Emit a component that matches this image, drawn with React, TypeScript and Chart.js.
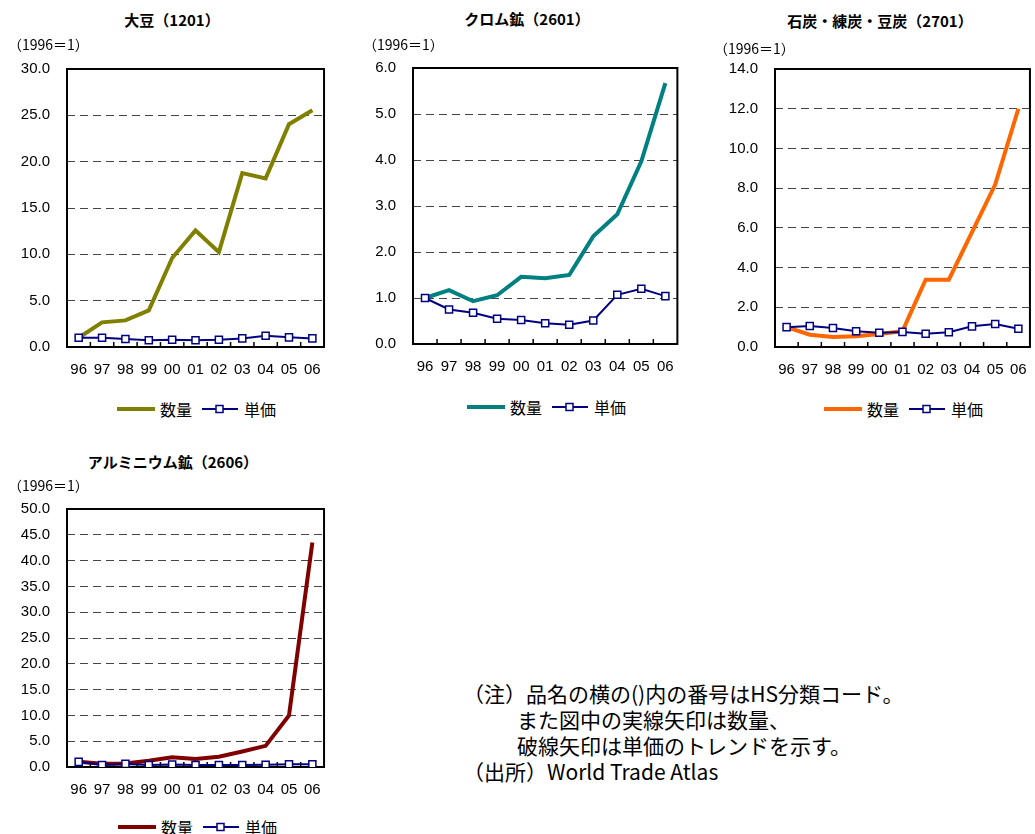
import React, { useEffect, useRef } from 'react';
import { Chart, registerables } from 'chart.js';

Chart.register(...registerables);

// Fiscal years on the category axis
const YEARS = ['96', '97', '98', '99', '00', '01', '02', '03', '04', '05', '06'];

// Indices (1996 = 1): volume and unit price per commodity
const SOY_QTY = [1.0, 2.66, 2.87, 3.95, 9.6, 12.58, 10.24, 18.76, 18.2, 24.04, 25.55];
const SOY_PRICE = [1.0, 1.0, 0.86, 0.72, 0.79, 0.72, 0.79, 0.93, 1.22, 1.04, 0.93];

const CHROME_QTY = [1.0, 1.17, 0.93, 1.06, 1.46, 1.43, 1.5, 2.34, 2.82, 3.97, 5.67];
const CHROME_PRICE = [1.0, 0.75, 0.68, 0.55, 0.52, 0.45, 0.42, 0.51, 1.07, 1.2, 1.04];

const COAL_QTY = [1.0, 0.62, 0.5, 0.54, 0.65, 0.8, 3.39, 3.39, 5.79, 8.18, 12.0];
const COAL_PRICE = [1.0, 1.06, 0.96, 0.79, 0.72, 0.76, 0.67, 0.74, 1.04, 1.16, 0.92];

const ALU_QTY = [1.0, 0.65, 0.7, 1.2, 1.9, 1.55, 2.0, 3.0, 4.1, 10.0, 43.5];
const ALU_PRICE = [1.0, 0.4, 0.6, 0.4, 0.5, 0.4, 0.4, 0.4, 0.45, 0.55, 0.55];

const QTY_LABEL = '数量';
const PRICE_LABEL = '単価';
const UNIT_LABEL = '（1996＝1）';

const NOTE_LINES = [
  '（注）品名の横の()内の番号はHS分類コード。',
  'また図中の実線矢印は数量、',
  '破線矢印は単価のトレンドを示す。',
  '（出所）World Trade Atlas',
];

const NAVY = '#000080';
const JP_FONT = '"Noto Sans CJK JP", "Noto Sans", sans-serif';
const NUM_FONT = '"Liberation Sans", Arial, sans-serif';

type Panel = {
  title: string;
  qty: number[];
  price: number[];
  color: string;
  max: number;
  step: number;
  // plot-area rectangle on the page
  L: number; T: number; R: number; B: number;
  titleX: number; titleY: number;
  unitX: number; unitY: number;
  legendX: number; legendY: number;
};

const PANELS: Panel[] = [
  {
    title: '大豆（1201）', qty: SOY_QTY, price: SOY_PRICE, color: '#808000', max: 30, step: 5,
    L: 67, T: 69, R: 329, B: 347, titleX: 172, titleY: 20, unitX: 8, unitY: 44, legendX: 117, legendY: 409,
  },
  {
    title: 'クロム鉱（2601）', qty: CHROME_QTY, price: CHROME_PRICE, color: '#008080', max: 6, step: 1,
    L: 413, T: 68, R: 682, B: 344, titleX: 527, titleY: 19, unitX: 363, unitY: 44, legendX: 467, legendY: 407,
  },
  {
    title: '石炭・練炭・豆炭（2701）', qty: COAL_QTY, price: COAL_PRICE, color: '#FF6600', max: 14, step: 2,
    L: 775, T: 69, R: 1035, B: 347, titleX: 880, titleY: 21, unitX: 714, unitY: 48, legendX: 824, legendY: 409,
  },
  {
    title: 'アルミニウム鉱（2606）', qty: ALU_QTY, price: ALU_PRICE, color: '#800000', max: 50, step: 5,
    L: 67, T: 509, R: 329, B: 767, titleX: 173, titleY: 462, unitX: 8, unitY: 485, legendX: 118, legendY: 827,
  },
];

const Y_AXIS_W = 60;
const X_AXIS_H = 40;
// must exceed the y-axis label overhang (half label height + tick padding)
const PAD_TOP = 32;
const PAD_RIGHT = 6;

// Draws the solid frame round the plot area and the short inward tick marks
// between year categories on the bottom edge.
const framePlugin = {
  id: 'plotFrame',
  beforeDatasetsDraw(chart: any) {
    const { ctx, chartArea } = chart;
    const xs = chart.scales.x;
    ctx.save();
    ctx.strokeStyle = '#000';
    ctx.lineWidth = 2;
    ctx.strokeRect(chartArea.left, chartArea.top, chartArea.right - chartArea.left, chartArea.bottom - chartArea.top);
    ctx.lineWidth = 1.5;
    ctx.beginPath();
    const n = chart.data.labels.length;
    for (let i = 1; i < n; i++) {
      const px = (xs.getPixelForValue(i - 1) + xs.getPixelForValue(i)) / 2;
      ctx.moveTo(px, chartArea.bottom);
      ctx.lineTo(px, chartArea.bottom - 5);
    }
    ctx.stroke();
    ctx.restore();
  },
};

function PanelChart({ p }: { p: Panel }) {
  const ref = useRef<HTMLCanvasElement | null>(null);
  const width = Y_AXIS_W + (p.R - p.L) + PAD_RIGHT;
  const height = PAD_TOP + (p.B - p.T) + X_AXIS_H;

  useEffect(() => {
    if (!ref.current) return;
    const chart = new Chart(ref.current, {
      type: 'line',
      data: {
        labels: YEARS,
        datasets: [
          {
            label: QTY_LABEL,
            data: p.qty,
            borderColor: p.color,
            backgroundColor: p.color,
            borderWidth: 4,
            pointRadius: 0,
            tension: 0,
            order: 2,
          },
          {
            label: PRICE_LABEL,
            data: p.price,
            borderColor: NAVY,
            backgroundColor: '#ffffff',
            borderWidth: 2,
            pointStyle: 'rect',
            pointRadius: 5,
            pointBorderWidth: 1.5,
            pointBorderColor: NAVY,
            pointBackgroundColor: '#ffffff',
            tension: 0,
            order: 1,
          },
        ],
      },
      options: {
        responsive: false,
        maintainAspectRatio: false,
        animation: false,
        events: [],
        layout: { padding: { top: PAD_TOP, right: PAD_RIGHT, left: 0, bottom: 0 } },
        plugins: { legend: { display: false }, tooltip: { enabled: false }, title: { display: false } },
        scales: {
          x: {
            type: 'category',
            offset: true,
            grid: { display: false, drawTicks: false },
            border: { display: false },
            ticks: {
              padding: 14,
              color: '#000',
              maxRotation: 0,
              autoSkip: false,
              font: { family: NUM_FONT, size: 15 },
            },
            afterFit: (s: any) => { s.height = X_AXIS_H; },
          },
          y: {
            min: 0,
            max: p.max,
            ticks: {
              stepSize: p.step,
              padding: 17,
              color: '#000',
              font: { family: NUM_FONT, size: 15 },
              callback: (v: any) => Number(v).toFixed(1),
            },
            grid: {
              drawTicks: false,
              lineWidth: 1,
              color: (c: any) =>
                c.tick && (c.tick.value === 0 || c.tick.value === p.max) ? 'rgba(0,0,0,0)' : '#444',
            },
            border: { display: false, dash: [8, 5] },
            afterFit: (s: any) => { s.width = Y_AXIS_W; },
          },
        },
      },
      plugins: [framePlugin],
    } as any);
    return () => chart.destroy();
  }, [p]);

  return (
    <canvas
      ref={ref}
      width={width}
      height={height}
      style={{
        position: 'absolute',
        left: p.L - Y_AXIS_W,
        top: p.T - PAD_TOP,
        width,
        height,
      }}
    />
  );
}

function Legend({ p }: { p: Panel }) {
  return (
    <div
      style={{
        position: 'absolute',
        left: p.legendX,
        top: p.legendY - 10,
        height: 20,
        display: 'flex',
        alignItems: 'center',
        fontFamily: JP_FONT,
        fontSize: 16,
        lineHeight: '20px',
        color: '#000',
        whiteSpace: 'nowrap',
      }}
    >
      <svg width={38} height={20} style={{ display: 'block' }}>
        <line x1={0} y1={10} x2={38} y2={10} stroke={p.color} strokeWidth={4} />
      </svg>
      <span style={{ marginLeft: 5 }}>{QTY_LABEL}</span>
      <svg width={36} height={20} style={{ display: 'block', marginLeft: 10 }}>
        <line x1={0} y1={10} x2={36} y2={10} stroke={NAVY} strokeWidth={2} />
        <rect x={14} y={6.5} width={7} height={7} fill="#ffffff" stroke={NAVY} strokeWidth={1.5} />
      </svg>
      <span style={{ marginLeft: 6 }}>{PRICE_LABEL}</span>
    </div>
  );
}

function PanelText({ p }: { p: Panel }) {
  return (
    <>
      <div
        style={{
          position: 'absolute',
          left: p.titleX - 150,
          width: 300,
          top: p.titleY - 10,
          lineHeight: '20px',
          textAlign: 'center',
          fontFamily: JP_FONT,
          fontWeight: 700,
          fontSize: 15,
          color: '#000',
          whiteSpace: 'nowrap',
        }}
      >
        {p.title}
      </div>
      <div
        style={{
          position: 'absolute',
          left: p.unitX,
          top: p.unitY - 10,
          lineHeight: '20px',
          fontFamily: JP_FONT,
          fontSize: 14,
          color: '#000',
          whiteSpace: 'nowrap',
        }}
      >
        {UNIT_LABEL}
      </div>
      <Legend p={p} />
    </>
  );
}

const NOTE_POS = [
  { x: 463, y: 693 },
  { x: 517, y: 719 },
  { x: 517, y: 745 },
  { x: 463, y: 771 },
];

export default function App() {
  return (
    <div
      style={{
        position: 'absolute',
        left: 0,
        top: 0,
        width: 1035,
        height: 834,
        overflow: 'hidden',
        background: '#ffffff',
      }}
    >
      {PANELS.map((p, i) => (
        <React.Fragment key={i}>
          <PanelChart p={p} />
          <PanelText p={p} />
        </React.Fragment>
      ))}
      {NOTE_LINES.map((t, i) => (
        <div
          key={i}
          style={{
            position: 'absolute',
            left: NOTE_POS[i].x,
            top: NOTE_POS[i].y - 13,
            lineHeight: '26px',
            fontFamily: JP_FONT,
            fontSize: 21,
            color: '#000',
            whiteSpace: 'nowrap',
          }}
        >
          {t}
        </div>
      ))}
    </div>
  );
}
